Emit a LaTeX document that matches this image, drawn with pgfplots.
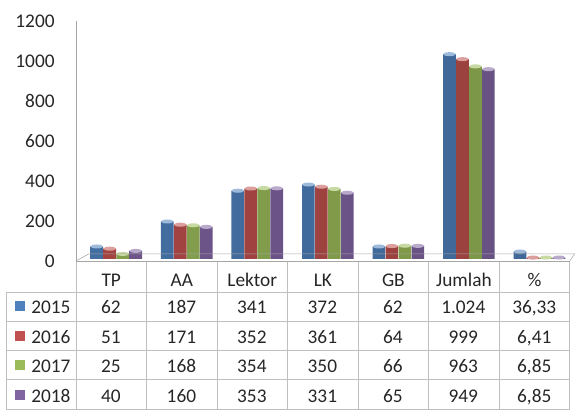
\documentclass[border=0pt]{standalone}
\usepackage{pgfplots}
\pgfplotsset{compat=1.18}
\usepackage{fontspec}
\setmainfont{Carlito}
\usetikzlibrary{shapes.geometric}
\definecolor{c1}{HTML}{4F81BD}
\definecolor{c2}{HTML}{C0504D}
\definecolor{c3}{HTML}{9BBB59}
\definecolor{c4}{HTML}{8064A2}
\definecolor{axc}{HTML}{A6A6A6}
\definecolor{tbc}{HTML}{BFBFBF}
\definecolor{txt}{HTML}{262626}
\begin{document}
\fontsize{14.5}{17}\selectfont
\begin{tikzpicture}[font=\fontsize{14.5}{17}\selectfont]
\begin{axis}[at={(0,0)}, anchor=south west, scale only axis,
 width=370.5pt, height=180pt,
 xmin=0, xmax=7, ymin=0, ymax=1200, ytick={0,200,...,1200},
 xtick={0.5,1.5,...,6.5}, xticklabels={TP,AA,Lektor,LK,GB,Jumlah,\%},
 axis y line*=left, axis x line*=bottom,
 y axis line style={draw=axc,-}, x axis line style={draw=none,-},
 major tick length=0pt,
 yticklabel style={xshift=-11pt, text=txt, /pgf/number format/1000 sep={}},
 xticklabel style={anchor=base, yshift=-19.3pt, text=txt},
 /pgf/number format/assume math mode=true,
 ybar, bar width=9.5pt, clip=false,
 nodes near coords={}, nodes near coords align={center},
 every node near coord/.append style={ellipse, inner sep=0pt, minimum width=9.5pt, minimum height=3pt},
 every axis plot/.append style={yshift=1.5pt},
]
\addplot[draw=none, left color=c1!85!black, middle color=c1!65!white, right color=c1!80!black, bar shift=-10.875pt,
  every node near coord/.append style={fill=c1!55!white}]
  coordinates {(0.5,62)(1.5,187)(2.5,341)(3.5,372)(4.5,62)(5.5,1024)(6.5,36.33)};
\addplot[draw=none, left color=c2!85!black, middle color=c2!65!white, right color=c2!80!black, bar shift=-1.125pt,
  every node near coord/.append style={fill=c2!55!white}]
  coordinates {(0.5,51)(1.5,171)(2.5,352)(3.5,361)(4.5,64)(5.5,999)(6.5,6.41)};
\addplot[draw=none, left color=c3!85!black, middle color=c3!65!white, right color=c3!80!black, bar shift=8.625pt,
  every node near coord/.append style={fill=c3!55!white}]
  coordinates {(0.5,25)(1.5,168)(2.5,354)(3.5,350)(4.5,66)(5.5,963)(6.5,6.85)};
\addplot[draw=none, left color=c4!85!black, middle color=c4!65!white, right color=c4!80!black, bar shift=18.375pt,
  every node near coord/.append style={fill=c4!55!white}]
  coordinates {(0.5,40)(1.5,160)(2.5,353)(3.5,331)(4.5,65)(5.5,949)(6.5,6.85)};
\end{axis}
\begin{scope}[xshift=-57pt, yshift=195.75pt, x=0.75pt, y=-0.75pt]
\path (0,0) rectangle (575,410);
\draw[axc] (76,261)--(89,254)--(575,254)--(570,261);
\foreach \xx in {76,146,217,287,358,428,499,570} \draw[tbc] (\xx,261)--(\xx,409.5);
\draw[tbc] (6,292)--(6,409.5);
\foreach \yy in {292,321,350,379,409.5} \draw[tbc] (6,\yy)--(570,\yy);
\draw[axc] (76,261)--(570,261);
\foreach \yr/\cc/\bl in {2015/c1/314,2016/c2/343.5,2017/c3/373,2018/c4/402.5}{
  \fill[\cc] (15,\bl-12.5) rectangle (25,\bl-2.5);
  \node[anchor=base west, inner sep=0pt, text=txt] at (31,\bl) {\yr};
}
\foreach \bl/\a/\b/\c/\d/\e/\f/\g in {314/62/187/341/372/62/1.024/{36,33},343.5/51/171/352/361/64/999/{6,41},373/25/168/354/350/66/963/{6,85},402.5/40/160/353/331/65/949/{6,85}}{
  \node[anchor=base, inner sep=0pt, text=txt] at (111,\bl) {\a};
  \node[anchor=base, inner sep=0pt, text=txt] at (181.5,\bl) {\b};
  \node[anchor=base, inner sep=0pt, text=txt] at (252,\bl) {\c};
  \node[anchor=base, inner sep=0pt, text=txt] at (322.5,\bl) {\d};
  \node[anchor=base, inner sep=0pt, text=txt] at (393,\bl) {\e};
  \node[anchor=base, inner sep=0pt, text=txt] at (463.5,\bl) {\f};
  \node[anchor=base, inner sep=0pt, text=txt] at (534.5,\bl) {\g};
}
\end{scope}
\end{tikzpicture}
\end{document}
